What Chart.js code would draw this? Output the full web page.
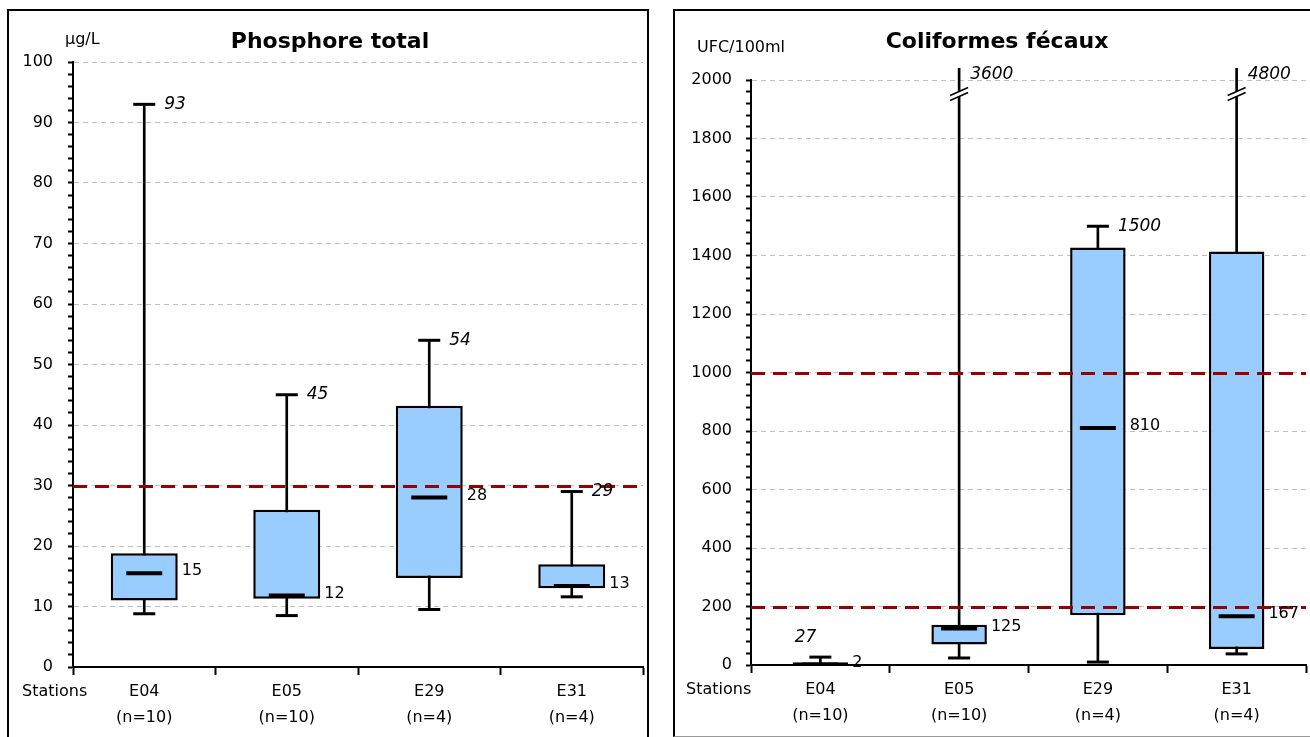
<!DOCTYPE html>
<html>
<head>
<meta charset="utf-8">
<script src="https://cdn.jsdelivr.net/npm/chart.js@4.4.1/dist/chart.umd.min.js"></script>
<style>
body{margin:0;background:#fff;width:1310px;height:737px;overflow:hidden;position:relative}
.panel{position:absolute;background:#fff;box-sizing:border-box}
#p1{left:7px;top:9px;width:642px;height:760px;border:2px solid #000}
#p2{left:673px;top:9px;width:650px;height:728px;border:2px solid #000;border-bottom:1px solid #999}
canvas{display:block}
</style>
</head>
<body>
<div class="panel" id="p1"><canvas id="phos" width="638" height="726"></canvas></div>
<div class="panel" id="p2"><canvas id="coli" width="635" height="724"></canvas></div>
<script>
const stations = ['E04', 'E05', 'E29', 'E31'];
const nSamples = ['(n=10)', '(n=10)', '(n=4)', '(n=4)'];

// Phosphore total, µg/L
const phosMin = [8.8, 8.5, 9.5, 11.6];
const phosQ1 = [11, 11.3, 14.7, 13];
const phosMed = [15.5, 11.8, 28, 13.4];
const phosQ3 = [18.8, 26, 43.2, 17];
const phosMax = [93, 45, 54, 29];
const phosMedLbl = ['15', '12', '28', '13'];
const phosLimits = [30];

// Coliformes fécaux, UFC/100ml
const coliMin = [0, 24, 10, 38];
const coliQ1 = [0, 70, 170, 55];
const coliMed = [2, 125, 810, 167];
const coliQ3 = [9, 138, 1427, 1414];
const coliMax = [27, 3600, 1500, 4800];
const coliMedLbl = ['2', '125', '810', '167'];
const coliLimits = [1000, 200];

const FONT = '"DejaVu Sans", sans-serif';

const boxExtras = {
  id: 'boxExtras',
  afterDatasetsDraw(chart, args, o) {
    const {ctx, chartArea} = chart;
    const xs = chart.scales.x, ys = chart.scales.y;
    const boxes = chart.getDatasetMeta(1).data;
    ctx.save();

    // seuils
    ctx.strokeStyle = '#990000';
    ctx.lineWidth = 3;
    ctx.setLineDash([14, 8]);
    o.limits.forEach(v => {
      const py = Math.round(ys.getPixelForValue(v)) + 0.5;
      ctx.beginPath();
      ctx.moveTo(chartArea.left, py);
      ctx.lineTo(chartArea.right, py);
      ctx.stroke();
    });
    ctx.setLineDash([]);

    ctx.fillStyle = '#000';
    ctx.textBaseline = 'middle';
    stations.forEach((s, i) => {
      const px = xs.getPixelForValue(i);
      const bar = boxes[i];
      // médiane
      ctx.font = '16px ' + FONT;
      ctx.textAlign = 'left';
      ctx.fillText(o.medLbl[i], bar.x + bar.width / 2 + 4, ys.getPixelForValue(o.med[i]) - 2);
      // maximum
      ctx.font = 'italic 17px ' + FONT;
      const mx = o.max[i];
      if (mx > ys.max) {
        const by = chartArea.top + 14;
        ctx.fillStyle = '#fff';
        ctx.fillRect(px - 3, by - 3, 6, 6);
        ctx.fillStyle = '#000';
        ctx.strokeStyle = '#000';
        ctx.lineWidth = 1.5;
        [-2.5, 2.5].forEach(d => {
          ctx.beginPath();
          ctx.moveTo(px - 9, by + 4 + d);
          ctx.lineTo(px + 9, by - 4 + d);
          ctx.stroke();
        });
        ctx.fillText(String(mx), px + 11, chartArea.top - 5);
      } else if (o.maxAbove && o.maxAbove[i]) {
        ctx.textAlign = 'right';
        ctx.fillText(String(mx), px - 4, ys.getPixelForValue(mx) - 20);
      } else {
        ctx.fillText(String(mx), px + 20, ys.getPixelForValue(mx));
      }
    });

    // titre, unité, "Stations"
    ctx.textAlign = 'center';
    ctx.font = 'bold 22px ' + FONT;
    ctx.fillText(o.title, o.titleX, 31);
    ctx.textAlign = 'left';
    ctx.font = '16px ' + FONT;
    ctx.fillText(o.unit, o.unitX, o.unitY);
    ctx.fillText('Stations', o.stationsX, chartArea.bottom + 25);
    ctx.restore();
  }
};

function boxChart(id, d) {
  const majorOf = v => v % d.major === 0;
  return new Chart(id, {
    type: 'bar',
    data: {
      labels: stations.map((s, i) => [s, nSamples[i]]),
      datasets: [
        {
          data: stations.map((s, i) => [d.min[i], d.max[i]]),
          backgroundColor: '#000',
          barThickness: 2,
          grouped: false,
          borderSkipped: false,
          clip: {left: 0, top: 12, right: 0, bottom: 0},
          order: 4
        },
        {
          data: stations.map((s, i) => [d.q1[i], d.q3[i]]),
          backgroundColor: '#99ccff',
          borderColor: '#000',
          borderWidth: 2.5,
          borderSkipped: false,
          barPercentage: d.boxPct,
          categoryPercentage: 1,
          grouped: false,
          order: 3
        },
        {
          type: 'line',
          data: d.min,
          showLine: false,
          pointStyle: 'line',
          pointRadius: 11,
          pointBorderWidth: 3,
          pointBorderColor: '#000',
          order: 2
        },
        {
          type: 'line',
          data: d.max,
          showLine: false,
          pointStyle: 'line',
          pointRadius: 11,
          pointBorderWidth: 3,
          pointBorderColor: '#000',
          order: 2
        },
        {
          type: 'line',
          data: d.med,
          showLine: false,
          pointStyle: 'line',
          pointRadius: 18,
          pointBorderWidth: 4,
          pointBorderColor: '#000',
          order: 1
        }
      ]
    },
    options: {
      responsive: false,
      animation: false,
      events: [],
      layout: {autoPadding: false, padding: {left: 0, right: d.padRight, top: d.top, bottom: 0}},
      plugins: {
        legend: {display: false},
        tooltip: {enabled: false},
        boxExtras: {
          limits: d.limits, med: d.med, medLbl: d.medLbl, max: d.max, maxAbove: d.maxAbove,
          title: d.title, titleX: d.titleX, unit: d.unit, unitX: d.unitX, unitY: d.unitY,
          stationsX: d.stationsX
        }
      },
      scales: {
        x: {
          afterFit: s => { s.height = 70; s.paddingLeft = 0; s.paddingRight = 0; },
          grid: {offset: true, drawOnChartArea: false, tickLength: 8, tickColor: '#000', tickWidth: 2},
          border: {color: '#000', width: 2},
          ticks: {color: '#000', padding: 4, font: {family: FONT, size: 16, lineHeight: 1.625}}
        },
        y: {
          min: 0,
          max: d.yMax,
          afterFit: s => { s.width = d.axisX; },
          grid: {
            color: c => (c.tick && majorOf(c.tick.value)) ? '#c0c0c0' : 'rgba(0,0,0,0)',
            tickColor: '#000',
            tickWidth: 2,
            tickLength: 5
          },
          border: {color: '#000', width: 2, dash: [5, 4]},
          ticks: {
            stepSize: d.minor,
            autoSkip: false,
            maxTicksLimit: 100,
            padding: d.tickPad,
            color: '#000',
            font: {family: FONT, size: 16},
            callback: v => majorOf(v) ? v : ''
          }
        }
      }
    },
    plugins: [boxExtras]
  });
}

boxChart('phos', {
  min: phosMin, q1: phosQ1, med: phosMed, q3: phosQ3, max: phosMax,
  medLbl: phosMedLbl, limits: phosLimits,
  yMax: 100, major: 10, minor: 2, boxPct: 0.47,
  axisX: 64, padRight: 4, top: 51, tickPad: 15,
  title: 'Phosphore total', titleX: 321, unit: 'µg/L', unitX: 56, unitY: 29, stationsX: 13
});

boxChart('coli', {
  min: coliMin, q1: coliQ1, med: coliMed, q3: coliQ3, max: coliMax,
  medLbl: coliMedLbl, limits: coliLimits, maxAbove: [true, false, false, false],
  yMax: 2000, major: 200, minor: 40, boxPct: 0.40,
  axisX: 76, padRight: 4, top: 69, tickPad: 14,
  title: 'Coliformes fécaux', titleX: 322, unit: 'UFC/100ml', unitX: 22, unitY: 37, stationsX: 11
});
</script>
</body>
</html>
